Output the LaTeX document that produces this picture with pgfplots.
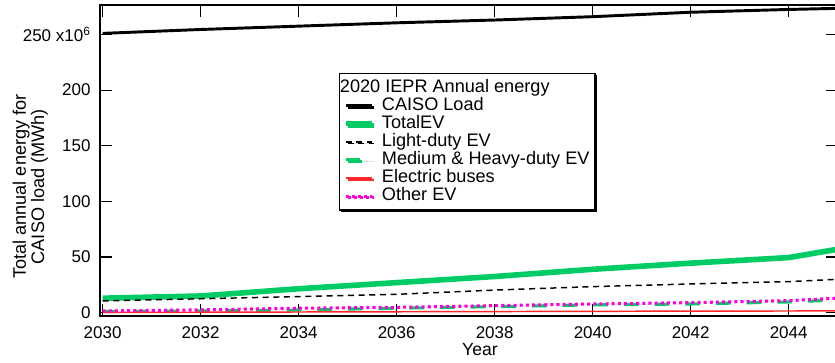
\documentclass[border=0pt]{standalone}
\usepackage{fontspec}
\setmainfont{Liberation Sans}
\usepackage{pgfplots}
\pgfplotsset{compat=1.18}
\usetikzlibrary{shadows}

\definecolor{evgreen}{RGB}{0,204,102}
\definecolor{busred}{RGB}{255,40,40}
\definecolor{othermag}{RGB}{255,0,220}

\begin{document}
\begin{tikzpicture}
\begin{axis}[
  at={(0pt,0pt)}, anchor=south west,
  scale only axis, width=553.1pt, height=233.25pt,
  xmin=2029.95, xmax=2045, ymin=-3, ymax=276.5,
  xtick={2030,2032,2034,2036,2038,2040,2042,2044},
  xticklabels={2030,2032,2034,2036,2038,2040,2042,2044},
  ytick={0,50,100,150,200,250},
  yticklabels={0,50,100,150,200,{250 x10\textsuperscript{6}}},
  tick align=inside, major tick length=9pt,
  every tick/.style={black, line width=0.9pt},
  axis line style={line width=1.5pt},
  tick label style={font=\fontsize{12.75}{14}\selectfont},
  xticklabel style={inner sep=0pt, anchor=north, yshift=-8pt},
  yticklabel style={inner sep=0pt, anchor=east, xshift=-7pt},
  xlabel={Year},
  xlabel style={at={(axis description cs:0.515,0)}, anchor=north, inner sep=0pt,
    yshift=-20.25pt, font=\fontsize{13.2}{14}\selectfont},
  ylabel={Total annual energy for\\CAISO load (MWh)},
  ylabel style={at={(axis description cs:-0.0949,0.416)}, anchor=center,
    align=center, inner sep=0pt, font=\fontsize{13.6}{12.2}\selectfont},
  legend style={at={(axis description cs:0.3238,0.7814)}, anchor=north west,
    draw=black, line width=1pt, fill=white,
    drop shadow={shadow xshift=1.3pt, shadow yshift=-1.3pt, opacity=1, fill=black},
    font=\fontsize{13.6}{14}\selectfont, inner xsep=2.5pt, inner ysep=3.5pt,
    row sep=0pt, column sep=3.5pt,
    nodes={inner xsep=1.5pt, inner ysep=0.2pt, text height=10.2pt, text depth=3pt}},
  legend cell align=left,
  legend image code/.code={\draw[#1] (0pt,0pt) -- (20pt,0pt);},
]
\addlegendimage{empty legend}
\addlegendentry{\hspace{-31.5pt}2020 IEPR Annual energy}

\addplot[black, line width=2.2pt] coordinates {
  (2030,251) (2032,254.5) (2034,257.5) (2036,260.5) (2038,263)
  (2040,266) (2042,270) (2044,272.5) (2045,273.5)};
\addlegendentry{CAISO Load}

\addplot[evgreen, line width=4.2pt] coordinates {
  (2030,13) (2032,15) (2034,21.5) (2036,27) (2038,32.5)
  (2040,39) (2042,44.5) (2044,49.5) (2045,57)};
\addlegendentry{TotalEV}

\addplot[black, line width=1.1pt, dash pattern=on 4.5pt off 3.5pt] coordinates {
  (2030,10.5) (2032,12.5) (2034,14.5) (2036,16.5) (2038,20.3)
  (2040,23.4) (2042,25.8) (2044,27.9) (2045,30)};
\addlegendentry{Light-duty EV}

\addplot[evgreen, line width=2.3pt, dash pattern=on 11pt off 12pt] coordinates {
  (2030,1) (2032,1.6) (2034,2.4) (2036,4) (2038,5.4)
  (2040,7) (2042,7.8) (2044,9.6) (2045,11.4)};
\addlegendentry{Medium \& Heavy-duty EV}

\addplot[busred, line width=1.1pt] coordinates {
  (2030,0.2) (2032,0.4) (2034,0.6) (2036,0.8) (2038,1)
  (2040,1.2) (2042,1.4) (2044,1.5) (2045,1.6)};
\addlegendentry{Electric buses}

\addplot[othermag, line width=2.3pt, dash pattern=on 2.3pt off 2.3pt] coordinates {
  (2030,1.5) (2032,2.5) (2034,4) (2036,4.8) (2038,6.3)
  (2040,7.8) (2042,9) (2044,10.8) (2045,13)};
\addlegendentry{Other EV}
\end{axis}
\pgfresetboundingbox
\useasboundingbox (-75.15pt,-34.5pt) rectangle (551.1pt,237pt);
\end{tikzpicture}
\end{document}
